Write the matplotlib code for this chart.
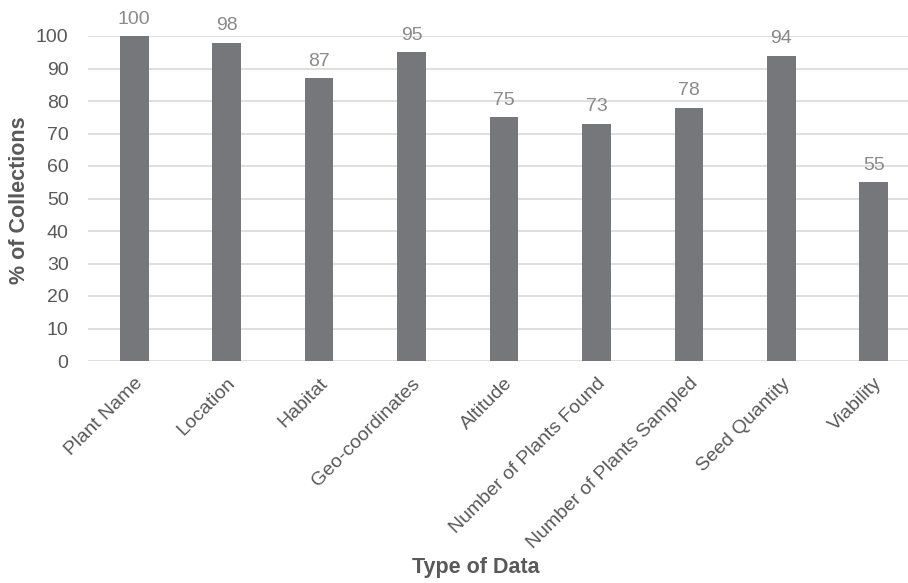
import matplotlib
matplotlib.use("Agg")
import matplotlib.pyplot as plt

# data
categories = ["Plant Name", "Location", "Habitat", "Geo-coordinates", "Altitude",
              "Number of Plants Found", "Number of Plants Sampled", "Seed Quantity", "Viability"]
percent = [100, 98, 87, 95, 75, 73, 78, 94, 55]

plt.rcParams['font.family'] = ['Liberation Sans', 'DejaVu Sans']

fig = plt.figure(figsize=(9.08, 5.83), dpi=100)
ax = fig.add_axes([88 / 908, 1 - 361 / 583, 1 - 88 / 908, 325 / 583])

x = range(len(categories))
bars = ax.bar(x, percent, width=0.31, color="#76777b", zorder=3)

for xi, v in zip(x, percent):
    ax.text(xi, v + 2.6, str(v), ha="center", va="bottom", fontsize=14, color="#8a8a8a")

ax.set_ylim(0, 100)
ax.set_yticks(range(0, 101, 10))
ax.set_xlim(-0.5, 8.37)
ax.set_xticks(list(x))
ax.set_xticklabels(categories, rotation=45, ha="right", rotation_mode="anchor")
ax.tick_params(axis="both", length=0, labelsize=14, colors="#595959")
ax.tick_params(axis="y", pad=14)
ax.tick_params(axis="x", pad=10)

ax.grid(axis="y", color="#d9d9d9", linewidth=1.2, zorder=0)
for s in ax.spines.values():
    s.set_visible(False)

fig.text(476 / 908, 1 - 568 / 583, "Type of Data", ha="center", va="center",
         fontsize=15.5, fontweight="bold", color="#595959")
fig.text(20 / 908, 1 - 200 / 583, "% of Collections", ha="center", va="center",
         rotation=90, fontsize=15.5, fontweight="bold", color="#595959")

fig.savefig("out.png", dpi=100)
